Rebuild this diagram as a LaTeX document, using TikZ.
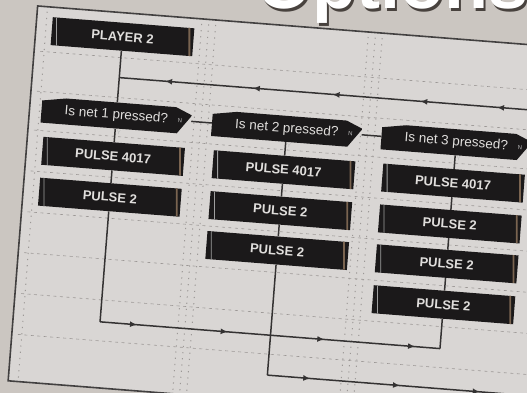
\documentclass[tikz,border=0pt]{standalone}
\usepackage{fontspec}
\setsansfont{Liberation Sans}
\usetikzlibrary{arrows.meta,decorations.markings}
\definecolor{paper}{RGB}{203,198,193}
\definecolor{sheet}{RGB}{217,214,212}
\definecolor{boxfill}{RGB}{27,25,26}
\definecolor{boxtext}{RGB}{224,222,220}
\definecolor{wirecol}{RGB}{52,50,50}
\definecolor{gridcol}{RGB}{156,152,150}
\definecolor{edgebrown}{RGB}{122,100,80}
\definecolor{framecol}{RGB}{66,64,64}
\definecolor{titleshade}{RGB}{72,66,62}
\tikzset{
  macrobox/.style = {fill=boxfill, text=boxtext, minimum width=142pt, minimum height=28pt,
                     inner sep=0pt, font=\sffamily\bfseries\fontsize{13}{15}\selectfont,
                     path picture={
                       \draw[gray!75,line width=0.8pt]
                         ([xshift=6pt]path picture bounding box.north west) --
                         ([xshift=6pt]path picture bounding box.south west);
                       \draw[edgebrown,line width=1.8pt]
                         ([xshift=-5pt]path picture bounding box.north east) --
                         ([xshift=-5pt]path picture bounding box.south east);}},
  decision/.style = {minimum width=150pt, minimum height=26pt, inner sep=0pt, text=boxtext,
                     font=\sffamily\fontsize{13.5}{15}\selectfont,
                     path picture={
                       \fill[boxfill]
                         ([yshift=-4pt]path picture bounding box.north west) --
                         ([xshift=-14pt]path picture bounding box.north) --
                         ([xshift=60pt,yshift=-5.5pt]path picture bounding box.north) --
                         (path picture bounding box.east) --
                         ([xshift=60pt,yshift=5.5pt]path picture bounding box.south) --
                         (path picture bounding box.south) --
                         ([yshift=4pt]path picture bounding box.south west) -- cycle;}},
  yn/.style       = {font=\sffamily\fontsize{6}{6}\selectfont, text=gray!55, inner sep=1pt},
  wire/.style     = {wirecol, line width=1.5pt},
  arrowat/.style  = {postaction={decorate,decoration={markings,
                     mark=at position #1 with {\arrow{Latex[length=7pt,width=6pt]}}}}},
  gridline/.style = {gridcol, line width=0.6pt, dash pattern=on 3pt off 3.5pt},
  griddots/.style = {gridcol, line width=1pt, dash pattern=on 1.2pt off 5pt},
  titletext/.style= {font=\sffamily\bfseries\fontsize{72}{72}\selectfont, inner sep=0pt},
}
\begin{document}
\begin{tikzpicture}[x=1pt,y=1pt]
  \clip (0,0) rectangle (527,-393);
  \fill[paper] (0,0) rectangle (527,-393);
  % page heading, only its lower edge is in view
  \node[titletext, text=titleshade, anchor=base west] (titleshadow) at (258.5,-11.5) {Options};
  \node[titletext, text=white, anchor=base west] (title) at (256,-9) {Options};

  \begin{scope}[rotate=-4.5, transform shape]
    \fill[sheet] (38,-3) rectangle (660,-379);
    % flowchart grid
    \foreach \gy in {48,88,127,168,209,250,291,332}
      \draw[gridline] (44,-\gy) -- (660,-\gy);
    \foreach \gx in {48,203,210,217,370,377,384}
      \draw[griddots] (\gx,-8) -- (\gx,-376);
    \draw[framecol, line width=1.6pt] (660,-3) -- (38,-3) -- (38,-379) -- (660,-379);

    \node[macrobox] (player) at (125,-27) {PLAYER 2};

    \node[decision, label={[yn,anchor=east,xshift=-8pt]east:N},
          label={[yn,anchor=north west,xshift=0.5pt]south:Y}] (dec1) at (125,-106) {Is net 1 pressed?};
    \node[decision, label={[yn,anchor=east,xshift=-8pt]east:N},
          label={[yn,anchor=north west,xshift=0.5pt]south:Y}] (dec2) at (296,-106) {Is net 2 pressed?};
    \node[decision, label={[yn,anchor=east,xshift=-8pt]east:N},
          label={[yn,anchor=north west,xshift=0.5pt]south:Y}] (dec3) at (466,-106) {Is net 3 pressed?};

    % yes branches
    \node[macrobox] (box11) at (125,-147) {PULSE 4017};
    \node[macrobox] (box12) at (125,-188) {PULSE 2};
    \node[macrobox] (box21) at (296,-147) {PULSE 4017};
    \node[macrobox] (box22) at (296,-188) {PULSE 2};
    \node[macrobox] (box23) at (296,-228) {PULSE 2};
    \node[macrobox] (box31) at (466,-147) {PULSE 4017};
    \node[macrobox] (box32) at (466,-188) {PULSE 2};
    \node[macrobox] (box33) at (466,-228) {PULSE 2};
    \node[macrobox] (box34) at (466,-269) {PULSE 2};

    \coordinate (loopjoin)  at (125,-68);
    \coordinate (loopstart) at (580,-68);
    \coordinate (c1turn)    at (125,-313);
    \coordinate (c3turn)    at (466,-313);
    \coordinate (c2turn)    at (296,-353);
    \coordinate (exit2)     at (600,-353);

    \draw[wire] (player) -- (dec1);
    \draw[wire, arrowat=76pt, arrowat=153pt, arrowat=241pt, arrowat=321pt, arrowat=409pt]
      (loopstart) -- (loopjoin);
    \draw[wire] (dec1) -- (dec2);
    \draw[wire] (dec2) -- (dec3);
    \draw[wire] (dec1) -- (box11) -- (box12) -- (c1turn);
    \draw[wire] (dec2) -- (box21) -- (box22) -- (box23) -- (c2turn);
    \draw[wire] (dec3) -- (box31) -- (box32) -- (box33) -- (box34) -- (c3turn);
    \draw[wire, arrowat=37pt, arrowat=128pt, arrowat=225pt, arrowat=316pt] (c1turn) -- (c3turn);
    \draw[wire, arrowat=43pt, arrowat=133pt, arrowat=213pt] (c2turn) -- (exit2);
  \end{scope}
\end{tikzpicture}
\end{document}
